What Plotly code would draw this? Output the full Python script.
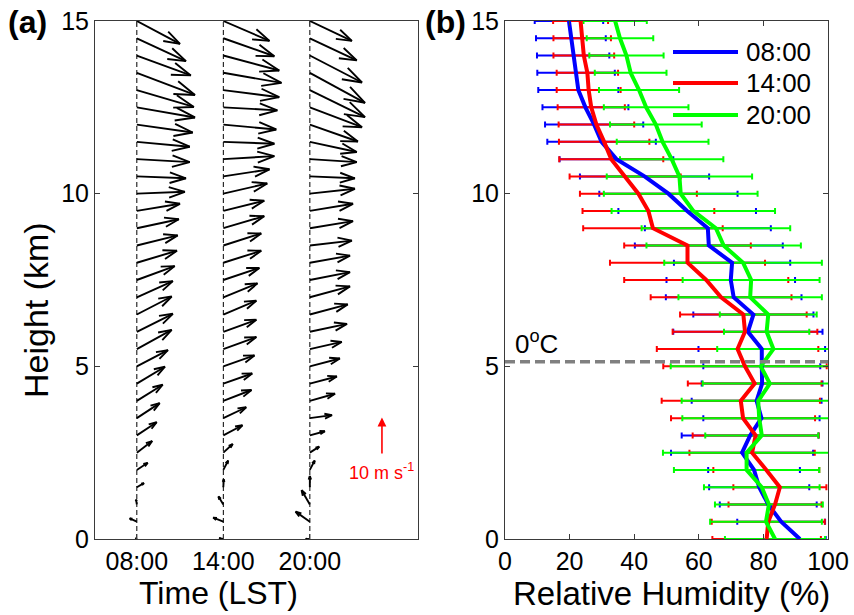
import plotly.graph_objects as go

# ---------------------------------------------------------------------------
# Data
# ---------------------------------------------------------------------------
HEIGHTS_KM = [0.0, 0.5, 1.0, 1.5, 2.0, 2.5, 3.0, 3.5, 4.0, 4.5, 5.0, 5.5, 6.0, 6.5, 7.0, 7.5,
              8.0, 8.5, 9.0, 9.5, 10.0, 10.5, 11.0, 11.5, 12.0, 12.5, 13.0, 13.5, 14.0, 14.5, 15.0]

TIME_LABELS = ["08:00", "14:00", "20:00"]
TIME_HOURS = [8, 14, 20]

# Horizontal wind components (m/s), surface to 15 km
U_0800 = [-0.3, -1.9, -0.2, 1.9, 2.9, 4.1, 5.3, 6.1, 6.9, 7.5, 8.3, 9.3, 9.6, 9.3, 9.6, 10.1,
          10.7, 10.9, 11.2, 11.5, 12.8, 13.1, 14.1, 14.1, 14.9, 15.5, 15.2, 15.5, 14.4, 13.1, 11.5]
V_0800 = [0.3, 0.9, 1.3, 1.1, 1.9, 3.1, 3.5, 4.0, 4.3, 4.5, 4.3, 5.1, 4.8, 4.8, 4.3, 3.7,
          3.2, 2.7, 2.4, 1.9, 0.5, -0.5, -0.8, -1.3, -2.1, -2.7, -4.5, -5.9, -5.3, -6.1, -6.1]
U_1400 = [-1.1, -2.7, -1.3, 0.1, 1.3, 2.5, 5.1, 6.1, 7.5, 7.7, 8.3, 8.8, 8.8, 8.8, 9.1, 9.6,
          10.1, 10.1, 10.9, 10.9, 11.7, 12.3, 13.6, 13.6, 14.1, 14.4, 14.9, 15.5, 14.9, 13.6, 12.3]
V_1400 = [0.2, 1.1, 2.1, 2.1, 2.5, 2.3, 2.7, 2.9, 2.9, 2.7, 2.9, 3.2, 3.2, 3.7, 3.7, 3.2,
          3.2, 3.2, 3.2, 2.7, 2.7, 1.9, 0.8, -0.5, -1.3, -0.8, -1.9, -2.7, -4.0, -4.8, -5.3]
U_2000 = [-1.1, -3.8, -2.2, 0.0, 1.3, 2.5, 4.0, 5.9, 6.7, 7.2, 8.0, 8.5, 9.9, 10.1, 10.7, 10.7,
          10.7, 11.2, 11.5, 11.5, 12.0, 12.0, 12.5, 12.5, 12.8, 13.9, 14.7, 14.7, 13.9, 12.5, 11.2]
V_2000 = [0.0, 2.7, 3.8, 3.0, 2.5, 1.6, 1.1, 0.8, 1.9, 1.9, 2.1, 1.9, 2.1, 2.7, 2.9, 2.1,
          1.9, 1.3, 1.9, 1.9, 1.3, -0.5, -0.8, -2.7, -4.5, -5.3, -7.2, -8.0, -7.2, -5.9, -5.3]

# Relative humidity profiles (%): mean and standard deviation
RH_MEAN_0800 = [91.3, 85.5, 81.5, 78.7, 77.1, 73.4, 75.9, 79.4, 77.9, 79.6, 79.5, 79.5, 75.2, 76.9, 70.8, 69.9,
                70.3, 63.1, 62.8, 56.4, 50.6, 43.2, 34.5, 29.9, 27.6, 24.9, 22.7, 22.0, 21.1, 20.4, 19.8]
RH_STD_0800 = [8.0, 13.6, 15.0, 15.5, 14.2, 22.0, 21.2, 18.0, 20.1, 18.7, 18.1, 19.6, 23.1, 18.6, 21.0, 19.9,
               18.0, 22.9, 19.5, 21.3, 21.4, 20.0, 17.6, 16.8, 15.2, 13.3, 12.4, 12.0, 11.2, 10.8, 10.6]
RH_MEAN_1400 = [81.0, 81.5, 83.6, 85.1, 80.9, 76.5, 77.6, 73.7, 73.0, 77.3, 74.3, 72.0, 74.3, 73.8, 66.9, 62.3,
                56.5, 56.5, 45.8, 44.4, 41.3, 37.2, 32.9, 30.7, 28.3, 26.7, 25.9, 25.5, 24.4, 23.9, 23.4]
RH_STD_1400 = [16.8, 17.5, 14.4, 14.4, 16.4, 19.4, 19.5, 22.3, 24.5, 20.7, 25.3, 25.0, 22.4, 19.6, 21.8, 25.4,
               24.0, 19.6, 21.6, 20.4, 18.1, 17.2, 16.1, 14.0, 11.7, 10.4, 9.9, 9.5, 9.4, 8.9, 8.5]
RH_MEAN_2000 = [83.6, 80.8, 81.7, 79.5, 74.8, 74.8, 79.5, 78.7, 78.4, 82.0, 79.2, 83.1, 81.0, 81.5, 75.9, 76.2,
                73.7, 67.7, 65.3, 58.3, 54.4, 54.0, 51.6, 48.8, 46.7, 43.7, 41.5, 38.9, 37.6, 35.6, 34.1]
RH_STD_2000 = [15.5, 17.3, 16.7, 17.9, 22.5, 25.9, 17.5, 23.8, 23.7, 20.8, 27.9, 17.4, 13.2, 15.0, 22.2, 21.2,
               24.4, 23.9, 23.0, 25.3, 23.8, 22.5, 16.0, 14.2, 14.2, 13.1, 12.4, 11.1, 11.5, 10.3, 9.8]

FREEZING_LEVEL_KM = 5.13
SCALE_SPEED = 10          # m/s, reference vector
SCALE_POS = (25.0, 2.43)  # (hour, km) tail of the reference vector

# ---------------------------------------------------------------------------
# Layout geometry (pixels)
# ---------------------------------------------------------------------------
FIG_W, FIG_H = 854, 615
A_LEFT, A_RIGHT = 95, 418
B_LEFT, B_RIGHT = 505, 828
P_TOP, P_BOTTOM = 21, 539
X_RANGE_A = [5.1, 27.5]
Y_RANGE = [0, 15]
X_RANGE_B = [0, 100]
PX_PER_MS = 3.75          # quiver length scale

px_per_hour = (A_RIGHT - A_LEFT) / (X_RANGE_A[1] - X_RANGE_A[0])
px_per_km = (P_BOTTOM - P_TOP) / (Y_RANGE[1] - Y_RANGE[0])


def px_x(p):
    return p / FIG_W


def px_y(p):
    return 1 - p / FIG_H


FONT = "Liberation Sans, Arial, sans-serif"
AXIS_COLOR = "#3a3a3a"

fig = go.Figure()

# ---------------------------------------------------------------------------
# (a) wind vectors
# ---------------------------------------------------------------------------
for t in TIME_HOURS:
    fig.add_trace(go.Scatter(
        x=[t, t], y=Y_RANGE, mode="lines", xaxis="x", yaxis="y",
        line=dict(color="black", width=1, dash="5px,3px"),
        showlegend=False, hoverinfo="skip"))


def quiver_path(t, heights, u, v):
    """Shafts plus open arrowheads, MATLAB-quiver style, in data units."""
    alpha, beta = 0.33, 0.33
    xs, ys = [], []
    for h, uu, vv in zip(heights, u, v):
        dx, dy = uu * PX_PER_MS, vv * PX_PER_MS
        b1x = dx - alpha * (dx + beta * dy)
        b1y = dy - alpha * (dy - beta * dx)
        b2x = dx - alpha * (dx - beta * dy)
        b2y = dy - alpha * (dy + beta * dx)
        cx = lambda p: t + p / px_per_hour
        cy = lambda p: h + p / px_per_km
        xs += [t, cx(dx), None, cx(b1x), cx(dx), cx(b2x), None]
        ys += [h, cy(dy), None, cy(b1y), cy(dy), cy(b2y), None]
    return xs, ys


for t, u, v in zip(TIME_HOURS, [U_0800, U_1400, U_2000], [V_0800, V_1400, V_2000]):
    qx, qy = quiver_path(t, HEIGHTS_KM, u, v)
    fig.add_trace(go.Scatter(
        x=qx, y=qy, mode="lines", xaxis="x", yaxis="y",
        line=dict(color="black", width=1.9),
        showlegend=False, hoverinfo="skip"))

# reference vector
fig.add_annotation(
    x=SCALE_POS[0], y=SCALE_POS[1] + SCALE_SPEED * PX_PER_MS / px_per_km,
    ax=SCALE_POS[0], ay=SCALE_POS[1], xref="x", yref="y", axref="x", ayref="y",
    showarrow=True, arrowhead=2, arrowsize=1.1, arrowwidth=1.6, arrowcolor="red",
    standoff=0, text="")
fig.add_annotation(
    x=SCALE_POS[0], y=SCALE_POS[1] - 0.08, xref="x", yref="y",
    text=f"{SCALE_SPEED} m s<sup>-1</sup>", showarrow=False,
    xanchor="center", yanchor="top",
    font=dict(family=FONT, size=18, color="red"))

# ---------------------------------------------------------------------------
# (b) relative humidity profiles
# ---------------------------------------------------------------------------
series = [
    ("08:00", RH_MEAN_0800, RH_STD_0800, "#0000ff"),
    ("14:00", RH_MEAN_1400, RH_STD_1400, "#ff0000"),
    ("20:00", RH_MEAN_2000, RH_STD_2000, "#00ff00"),
]

for name, mean, std, color in series:
    fig.add_trace(go.Scatter(
        x=mean, y=HEIGHTS_KM, mode="markers", xaxis="x2", yaxis="y2",
        marker=dict(size=1, color="rgba(0,0,0,0)"),
        error_x=dict(type="data", array=std, symmetric=True, color=color,
                     thickness=2, width=3),
        showlegend=False, hoverinfo="skip"))

for name, mean, std, color in series:
    fig.add_trace(go.Scatter(
        x=mean, y=HEIGHTS_KM, mode="lines", xaxis="x2", yaxis="y2",
        line=dict(color=color, width=4), name=name,
        showlegend=False, hoverinfo="skip"))

fig.add_trace(go.Scatter(
    x=X_RANGE_B, y=[FREEZING_LEVEL_KM, FREEZING_LEVEL_KM], mode="lines",
    xaxis="x2", yaxis="y2",
    line=dict(color="#808080", width=3.5, dash="10px,5px"),
    showlegend=False, hoverinfo="skip"))

fig.add_annotation(
    x=2.5, y=FREEZING_LEVEL_KM + 0.02, xref="x2", yref="y2",
    text="0<sup>o</sup>C", showarrow=False, xanchor="left", yanchor="bottom",
    font=dict(family=FONT, size=26, color="black"))

# legend drawn inside panel (b)
LEG_X0, LEG_X1, LEG_TEXT_X = 673, 738, 744
LEG_ROWS = [52, 83, 115]
for (name, mean, std, color), row in zip(series, LEG_ROWS):
    fig.add_shape(type="line", xref="paper", yref="paper",
                  x0=px_x(LEG_X0), x1=px_x(LEG_X1), y0=px_y(row), y1=px_y(row),
                  line=dict(color=color, width=4))
    fig.add_annotation(x=px_x(LEG_TEXT_X), y=px_y(row), xref="paper", yref="paper",
                       text=name, showarrow=False, xanchor="left", yanchor="middle",
                       font=dict(family=FONT, size=26, color="black"))

# ---------------------------------------------------------------------------
# Titles and panel labels
# ---------------------------------------------------------------------------
fig.add_annotation(x=px_x(6), y=px_y(2), xref="paper", yref="paper", text="<b>(a)</b>",
                   showarrow=False, xanchor="left", yanchor="top",
                   font=dict(family=FONT, size=32, color="black"))
fig.add_annotation(x=px_x(423), y=px_y(2), xref="paper", yref="paper", text="<b>(b)</b>",
                   showarrow=False, xanchor="left", yanchor="top",
                   font=dict(family=FONT, size=32, color="black"))
fig.add_annotation(x=px_x(218), y=px_y(593), xref="paper", yref="paper", text="Time (LST)",
                   showarrow=False, xanchor="center", yanchor="middle",
                   font=dict(family=FONT, size=32, color="black"))
fig.add_annotation(x=px_x(671), y=px_y(593), xref="paper", yref="paper",
                   text="Relative Humidity (%)",
                   showarrow=False, xanchor="center", yanchor="middle",
                   font=dict(family=FONT, size=33, color="black"))
fig.add_annotation(x=px_x(36), y=px_y(310), xref="paper", yref="paper", text="Height (km)",
                   showarrow=False, xanchor="center", yanchor="middle", textangle=-90,
                   font=dict(family=FONT, size=34, color="black"))

axis_common = dict(
    showline=True, linecolor=AXIS_COLOR, linewidth=1, mirror="ticks",
    ticks="inside", ticklen=5, tickwidth=1, tickcolor=AXIS_COLOR,
    showgrid=False, zeroline=False, automargin=False,
    tickfont=dict(family=FONT, size=25, color="black"),
)

fig.update_layout(
    width=FIG_W, height=FIG_H,
    margin=dict(l=0, r=0, t=0, b=0, autoexpand=False),
    paper_bgcolor="white", plot_bgcolor="white",
    showlegend=False,
    xaxis=dict(domain=[px_x(A_LEFT), px_x(A_RIGHT)], range=X_RANGE_A,
               tickvals=TIME_HOURS, ticktext=TIME_LABELS, anchor="y", **axis_common),
    yaxis=dict(domain=[px_y(P_BOTTOM), px_y(P_TOP)], range=Y_RANGE,
               tickvals=[0, 5, 10, 15], anchor="x", **axis_common),
    xaxis2=dict(domain=[px_x(B_LEFT), px_x(B_RIGHT)], range=X_RANGE_B,
                tickvals=[0, 20, 40, 60, 80, 100], anchor="y2", **axis_common),
    yaxis2=dict(domain=[px_y(P_BOTTOM), px_y(P_TOP)], range=Y_RANGE,
                tickvals=[0, 5, 10, 15], anchor="x2", **axis_common),
)

fig.write_html("out.html")
